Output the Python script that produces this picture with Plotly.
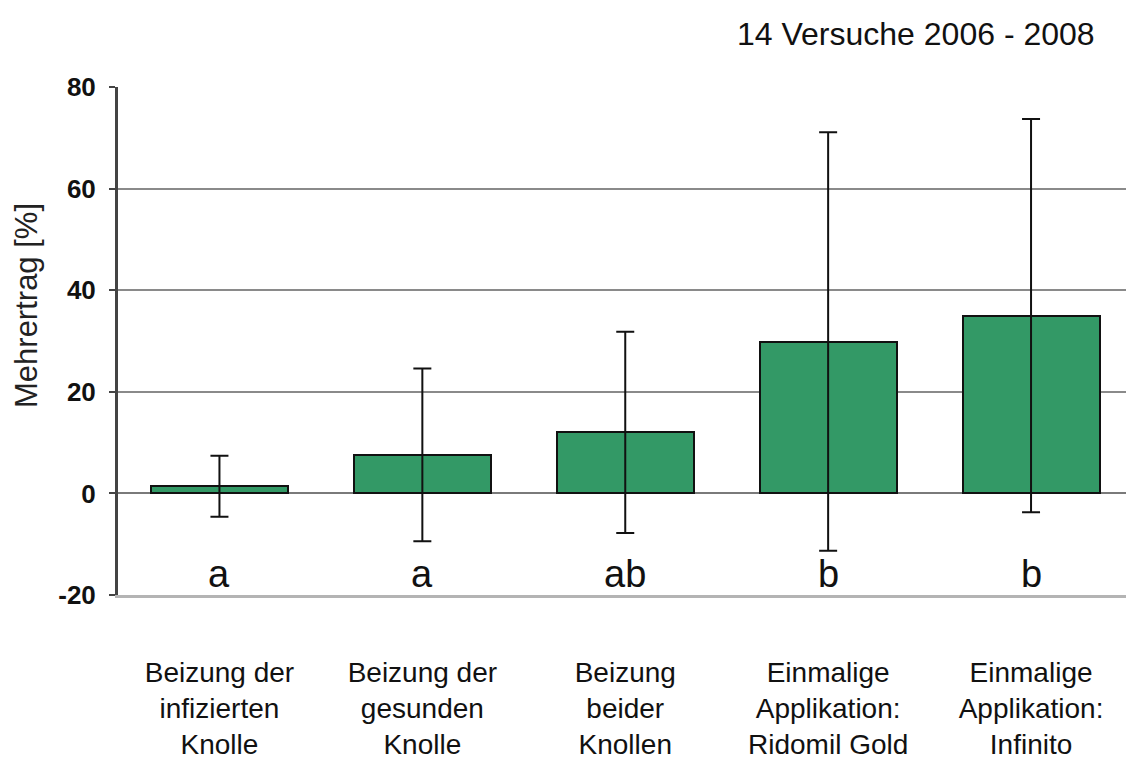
import plotly.graph_objects as go

# Treatments (three-line category labels)
categories = [
    "Beizung der<br>infizierten<br>Knolle",
    "Beizung der<br>gesunden<br>Knolle",
    "Beizung<br>beider<br>Knollen",
    "Einmalige<br>Applikation:<br>Ridomil Gold",
    "Einmalige<br>Applikation:<br>Infinito",
]
# Mean additional yield [%] and error (±)
mehrertrag = [1.4, 7.6, 12.0, 29.9, 35.0]
fehler = [6.0, 17.0, 19.8, 41.2, 38.7]
# Significance groups
gruppen = ["a", "a", "ab", "b", "b"]
y_ticks = [-20, 0, 20, 40, 60, 80]

W, H = 1126, 765
ML, MR, MT, MB = 118, 0, 87, 170

fig = go.Figure()
fig.add_trace(go.Bar(
    x=list(range(len(categories))),
    y=mehrertrag,
    width=0.675,
    marker=dict(color="#339966", line=dict(color="#111111", width=2)),
    error_y=dict(type="data", array=fehler, symmetric=True,
                 color="#111111", thickness=2, width=9),
    hoverinfo="skip",
))

for i, g in enumerate(gruppen):
    fig.add_annotation(
        x=i, y=-15.8, xref="x", yref="y", text=g, showarrow=False,
        font=dict(family="Liberation Sans, Arial, sans-serif", size=38, color="#111111"),
        xanchor="center", yanchor="middle",
    )

fig.add_annotation(
    x=(1097 - ML) / (W - ML - MR), y=1 + (87 - 34) / (H - MT - MB),
    xref="paper", yref="paper", text="14 Versuche 2006 - 2008",
    showarrow=False, xanchor="right", yanchor="middle",
    font=dict(family="Liberation Sans, Arial, sans-serif", size=32, color="#111111"),
)

fig.add_annotation(
    x=(26 - ML) / (W - ML - MR), y=(595 - 306) / (H - MT - MB),
    xref="paper", yref="paper", text="Mehrertrag [%]", textangle=-90,
    showarrow=False, xanchor="center", yanchor="middle",
    font=dict(family="Liberation Sans, Arial, sans-serif", size=31, color="#222222"),
)

fig.update_layout(
    width=W, height=H,
    margin=dict(l=ML, r=MR, t=MT, b=MB, pad=0, autoexpand=False),
    paper_bgcolor="white", plot_bgcolor="white",
    showlegend=False,
    bargap=0,
    xaxis=dict(
        range=[-0.5, 4.468],
        automargin=False,
        tickmode="array",
        tickvals=list(range(len(categories))),
        ticktext=categories,
        ticks="",
        showgrid=False, zeroline=False,
        showline=True, linecolor="#b4b4b4", linewidth=3,
        ticklabelstandoff=50,
        tickfont=dict(family="Liberation Sans, Arial, sans-serif", size=28, color="#111111"),
    ),
    yaxis=dict(
        range=[-20, 80],
        automargin=False,
        tickmode="array", tickvals=y_ticks,
        ticktext=[str(v) for v in y_ticks],
        ticks="outside", ticklen=6, tickwidth=2, tickcolor="#444444",
        showline=True, linecolor="#444444", linewidth=3,
        showgrid=True, gridcolor="#8a8a8a", gridwidth=1.5,
        zeroline=True, zerolinecolor="#7a7a7a", zerolinewidth=1.5,
        ticklabelstandoff=8,
        tickfont=dict(family="Liberation Sans Narrow, Arial Narrow, Liberation Sans, sans-serif",
                      size=26, color="#111111", weight="bold"),
    ),
)

fig.write_html("out.html")
